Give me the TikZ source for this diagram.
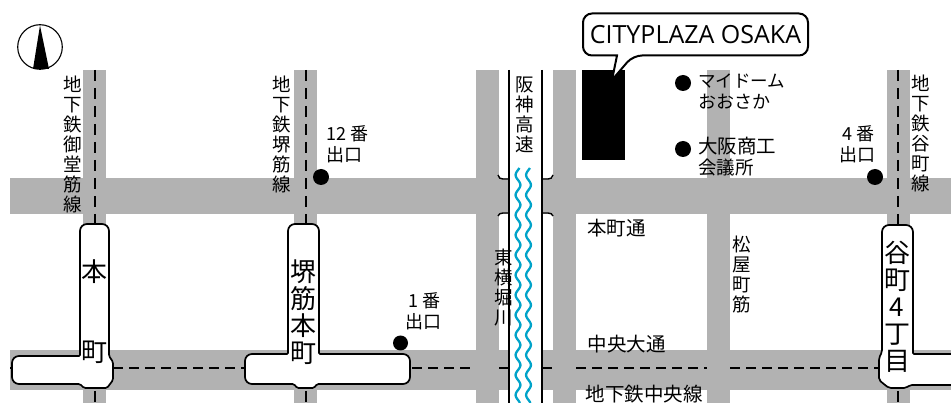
\documentclass[tikz,border=0pt]{standalone}
\usepackage{fontspec}
\setmainfont{Open Sans}
\newfontfamily\cjk{Noto Sans CJK JP}
\tikzset{
  x=1pt,y=-1pt,
  road/.style={fill=roadgrey,draw=none},
  subway/.style={line width=2pt,dash pattern=on 10pt off 6pt},
  subwayv/.style={line width=2pt,dash pattern=on 11pt off 7pt},
  station/.style={draw=black,fill=white,line width=1.7pt},
  river/.style={draw=riverblue,line width=2.3pt},
  bank/.style={draw=black,line width=2pt},
  lbl/.style={inner sep=0pt,align=center,font=\cjk\fontsize{18.5}{20}\selectfont},
  exitlbl/.style={inner sep=0pt,align=left,anchor=west,font=\cjk\fontsize{18}{21}\selectfont},
  lblleft/.style={inner sep=0pt,anchor=west,align=left,font=\cjk\fontsize{19}{21}\selectfont},
  stn/.style={inner sep=0pt,align=center,font=\cjk\fontsize{26}{27}\selectfont},
  dot/.style={circle,fill=black,inner sep=0pt,minimum size=15pt},
}
\definecolor{roadgrey}{HTML}{B2B2B2}
\definecolor{riverblue}{HTML}{00A3C9}
\begin{document}
\begin{tikzpicture}
\useasboundingbox (0,0) rectangle (951,403);
% roads
\fill[road] (83,70) rectangle (106,403);
\fill[road] (294,70) rectangle (317,403);
\fill[road] (476,70) rectangle (499,403);
\fill[road] (553,70) rectangle (576,403);
\fill[road] (707,70) rectangle (730,403);
\fill[road] (887,70) rectangle (910,403);
\fill[road] (10,178) rectangle (951,214);
\fill[road] (10,350) rectangle (951,390);
% expressway
\fill[white] (508,70) rectangle (542,403);
% subway dashes
\draw[subway] (10,368.5) -- (14,368.5);
\draw[subway] (113,368.5) -- (245,368.5);
\draw[subway] (412,368.5) -- (476,368.5);
\draw[subway] (499,368.5) -- (508,368.5);
\draw[subway] (542,368.5) -- (553,368.5);
\draw[subway] (576,368.5) -- (707,368.5);
\draw[subway] (730,368.5) -- (880,368.5);
\foreach \xx in {94.5,305.5,898}{
  \draw[subwayv] (\xx,70) -- (\xx,224);
  \draw[subwayv] (\xx,391) -- (\xx,403);
}
% river
\draw[river] plot[domain=168:403,samples=240] ({518+2.4*sin(\x*18)},\x);
\draw[river] plot[domain=168:403,samples=240] ({528.5+2.4*sin(\x*18)},\x);
% banks
\draw[bank] (508.5,70) -- (508.5,403);
\draw[bank] (542,70) -- (542,403);
\draw[bank,line width=1.4pt] (498,175) .. controls (499,178) and (500,179) .. (503,179) -- (508,179);
\draw[bank,line width=1.4pt] (553,175) .. controls (552,178) and (551,179) .. (548,179) -- (542,179);
\draw[bank,line width=1.4pt] (498,216) .. controls (499,214) and (500,213) .. (503,213) -- (508,213);
\draw[bank,line width=1.4pt] (553,216) .. controls (552,214) and (551,213) .. (548,213) -- (542,213);
% stations
\draw[station,rounded corners=7pt] (94,224) -- (109,224) [rounded corners=1.5pt] -- (109,356) -- (113,362) -- (113,380) -- (107,388) -- (84,388) -- (80,384) [rounded corners=7pt] -- (12,384) -- (12,356) [rounded corners=1pt] -- (80,356) [rounded corners=7pt] -- (80,224) -- cycle;
\draw[station,rounded corners=7pt] (303,224) -- (319,224) [rounded corners=1pt] -- (319,354) [rounded corners=7pt] -- (410,354) -- (410,384) [rounded corners=1.5pt] -- (317,384) -- (314,388) -- (297,388) -- (294,384) [rounded corners=7pt] -- (245,384) -- (245,354) [rounded corners=1pt] -- (288,354) [rounded corners=7pt] -- (288,224) -- cycle;
\draw[station,rounded corners=7pt] (897,225) -- (913,225) [rounded corners=1pt] -- (913,354) [rounded corners=7pt] -- (960,354) -- (960,385) [rounded corners=2pt] -- (910,385) -- (906,388) -- (889,388) -- (885,385) -- (879,380) -- (879,358) -- (882,352) [rounded corners=7pt] -- (882,225) -- cycle;
% building
\fill[black] (582,70) rectangle (625,160);
% callout
\draw[black,line width=2pt,fill=white,rounded corners=9pt] (583,13.5) -- (808,13.5) -- (808,55.5) -- (633,55.5) [sharp corners] -- (612,80) -- (617,55.5) [rounded corners=9pt] -- (583,55.5) -- cycle;
\node[inner sep=0pt,font=\fontsize{25}{27}\selectfont] (titletext) at (695.5,35) {CITYPLAZA OSAKA};
% compass
\draw[black,line width=1.1pt] (40,47) circle[radius=22.3];
\fill[black] (40,25.5) -- (49,69) -- (33,69) -- cycle;
% dots
\node[dot,minimum size=16pt] (d12) at (321,177) {};
\node[dot] (d1) at (400.5,343) {};
\node[dot,minimum size=16pt] (d4) at (875,177) {};
\node[dot,minimum size=16pt] (dm) at (683,83) {};
\node[dot,minimum size=16pt] (dc) at (683,149) {};
% vertical labels
\node[lbl] (l1) at (72.5,144) {地\\下\\鉄\\御\\堂\\筋\\線};
\node[lbl] (l2) at (281.5,134) {地\\下\\鉄\\堺\\筋\\線};
\node[lbl] (l3) at (524.5,115) {阪\\神\\高\\速};
\node[lbl] (l4) at (921,133) {地\\下\\鉄\\谷\\町\\線};
\node[lbl] (l5) at (504,288) {東\\横\\堀\\川};
\node[lbl] (l6) at (741.5,274.5) {松\\屋\\町\\筋};
% exits
\node[exitlbl] (e12) at (326,144.5) {12 番\\出口};
\node[exitlbl] (e1) at (405,311.5) {\,1 番\\出口};
\node[exitlbl] (e4) at (839,144.5) {\,4 番\\出口};
% streets
\node[lbl,font=\cjk\fontsize{19.5}{21}\selectfont] (s1) at (616.5,228) {本町通};
\node[lbl,font=\cjk\fontsize{19.5}{21}\selectfont] (s2) at (626.5,344) {中央大通};
\node[lbl,font=\cjk\fontsize{19.5}{21}\selectfont] (s3) at (644,394) {地下鉄中央線};
% facilities
\node[lblleft] (f1) at (698,91.5) {\fontsize{17.5}{21}\selectfont マイドーム\\\fontsize{18}{21}\selectfont おおさか};
\node[lblleft] (f2) at (698,157) {\fontsize{19.5}{21}\selectfont 大阪商工\\\fontsize{18.5}{21}\selectfont 会議所};
% station names
\node[stn] (n1) at (94.5,272) {本};
\node[stn] (n2) at (94.5,352) {町};
\node[stn] (n3) at (303.5,312) {堺\\筋\\本\\町};
\node[stn] (n4) at (897,306.5) {谷\\町\\4\\丁\\目};
\end{tikzpicture}
\end{document}
